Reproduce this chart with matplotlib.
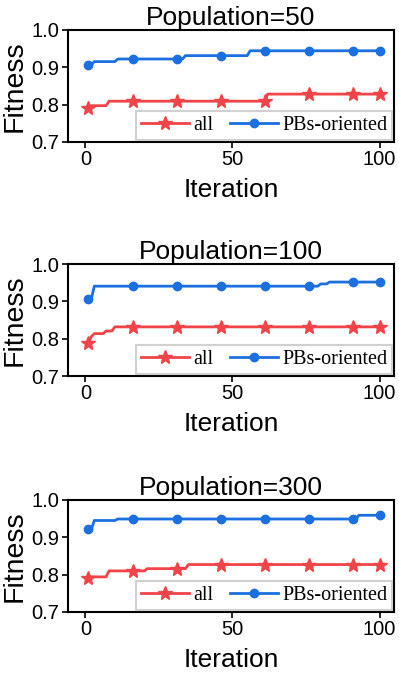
import matplotlib
matplotlib.use('Agg')
import matplotlib.pyplot as plt
import numpy as np

# iterations and step change points: (iteration, fitness)
iterations = np.arange(1, 101)
populations = [50, 100, 300]

all_steps = {
    50:  [(1, 0.791), (2, 0.797), (8, 0.809), (62, 0.828)],
    100: [(1, 0.789), (2, 0.806), (3, 0.814), (7, 0.821), (10, 0.832)],
    300: [(1, 0.792), (2, 0.794), (8, 0.810), (21, 0.816), (35, 0.827)],
}
pbs_steps = {
    50:  [(1, 0.907), (3, 0.915), (11, 0.922), (34, 0.931), (56, 0.944)],
    100: [(1, 0.907), (3, 0.941), (80, 0.947), (83, 0.952)],
    300: [(1, 0.921), (3, 0.945), (11, 0.949), (93, 0.959)],
}
mark_idx = [0, 15, 30, 45, 60, 75, 90, 99]


def expand(steps):
    vals = np.empty(len(iterations))
    for it, v in steps:
        vals[iterations >= it] = v
    return vals


plt.rcParams.update({
    'font.family': ['Liberation Sans', 'DejaVu Sans'],
    'axes.linewidth': 1.5,
})

RED = '#f04448'
BLUE = '#1b6fe0'

fig = plt.figure(figsize=(3.99, 6.79), dpi=100)
bottoms = [0.791, 0.446, 0.0987]

for pop, b in zip(populations, bottoms):
    ax = fig.add_axes([0.170, b, 0.818, 0.165])
    ax.plot(iterations, expand(all_steps[pop]), '-', color=RED, lw=2,
            marker='*', markersize=10, markevery=mark_idx, label='all')
    ax.plot(iterations, expand(pbs_steps[pop]), '-', color=BLUE, lw=2,
            marker='o', markersize=6, markevery=mark_idx, label='PBs-oriented')
    ax.set_xlim(-6, 105)
    ax.set_ylim(0.7, 1.0)
    ax.set_xticks([0, 50, 100])
    ax.set_yticks([0.7, 0.8, 0.9, 1.0])
    ax.tick_params(labelsize=14.5, width=1.2, length=4, pad=2)
    ax.set_title(f'Population={pop}', fontsize=19, pad=3)
    ax.set_xlabel('Iteration', fontsize=19, labelpad=6)
    ax.set_ylabel('Fitness', fontsize=20.5, labelpad=3)
    leg = ax.legend(loc='lower right', ncol=2, fancybox=False,
                    prop={'family': 'Liberation Serif', 'size': 14.5},
                    handlelength=2.4, handletextpad=0.2, columnspacing=0.8,
                    borderpad=0.25, borderaxespad=0.1, framealpha=1)
    leg.get_frame().set_edgecolor('#d0d0d0')
    leg.get_frame().set_linewidth(1.5)

fig.savefig('out.png', dpi=100)
